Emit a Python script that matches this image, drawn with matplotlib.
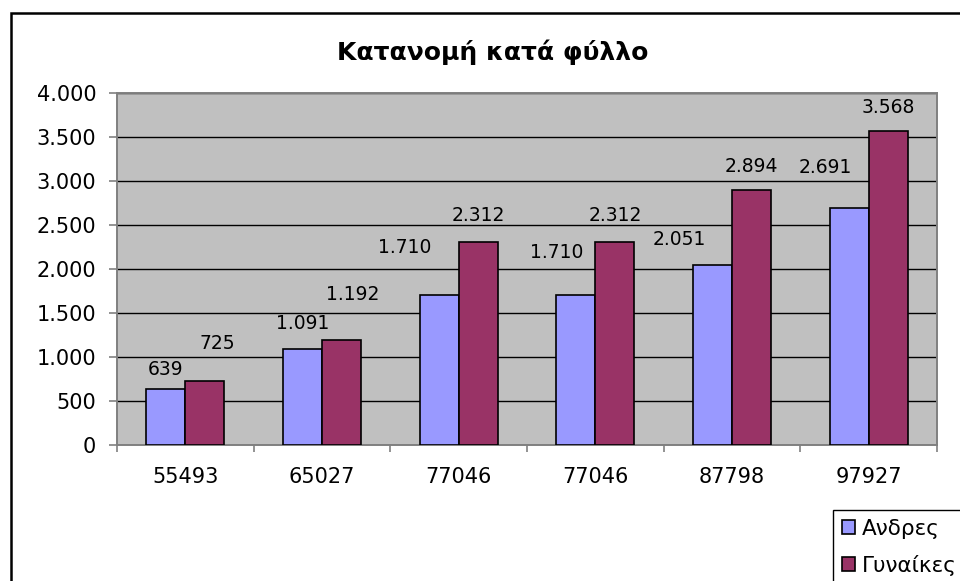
import matplotlib
matplotlib.use('Agg')
import matplotlib.pyplot as plt
import matplotlib.ticker as mticker
from matplotlib.patches import Rectangle
import numpy as np

plt.rcParams['font.family'] = ['DejaVu Sans']

# δεδομένα
categories = ['55493', '65027', '77046', '77046', '87798', '97927']
andres = [639, 1091, 1710, 1710, 2051, 2691]
gynaikes = [725, 1192, 2312, 2312, 2894, 3568]
series_names = ['Ανδρες', 'Γυναίκες']

# μετακινήσεις ετικετών (pt), όπως στο πρωτότυπο
off_andres = [(0, 14), (0, 18), (-25, 34), (-14, 30), (-24, 18), (-17, 29)]
off_gyn = [(9, 27), (8, 33), (0, 19), (0, 19), (0, 17), (0, 17)]

C_BLUE = '#9999FF'
C_RED = '#993366'
C_PLOT = '#C0C0C0'
C_AXIS = '#808080'


def fmt(v):
    return f'{v:,}'.replace(',', '.')


fig = plt.figure(figsize=(9.6, 5.81), dpi=100)
fig.patch.set_facecolor('white')

# εξωτερικό πλαίσιο
fig.add_artist(Rectangle((11 / 960, -0.2), 1.2, 1 - 13 / 581 + 0.2,
                         transform=fig.transFigure, fill=False,
                         edgecolor='black', linewidth=1.8))

ax = fig.add_axes([117 / 960, 1 - 445 / 581, 820 / 960, 352 / 581])
ax.set_facecolor(C_PLOT)

x = np.arange(len(categories))
w = 0.2857
b1 = ax.bar(x - w / 2, andres, w, color=C_BLUE, edgecolor='black', linewidth=1.2,
            label=series_names[0], zorder=3)
b2 = ax.bar(x + w / 2, gynaikes, w, color=C_RED, edgecolor='black', linewidth=1.2,
            label=series_names[1], zorder=3)

for bars, vals, offs in [(b1, andres, off_andres), (b2, gynaikes, off_gyn)]:
    for bar, v, (dx, dy) in zip(bars, vals, offs):
        ax.annotate(fmt(v), (bar.get_x() + bar.get_width() / 2, v),
                    xytext=(dx, dy), textcoords='offset points',
                    ha='center', va='center', fontsize=13.5, color='black', zorder=4)

ax.set_xlim(-0.5, len(categories) - 0.5)
ax.set_ylim(0, 4000)
ax.yaxis.set_major_locator(mticker.MultipleLocator(500))
ax.yaxis.set_major_formatter(mticker.FuncFormatter(lambda v, p: fmt(int(v))))
ax.yaxis.grid(True, color='black', linewidth=1.0, zorder=1)
ax.set_axisbelow(True)

ax.set_xticks(np.arange(-0.5, len(categories), 1.0))
ax.set_xticklabels([])
ax.set_xticks(x, minor=True)
ax.set_xticklabels(categories, minor=True)
ax.tick_params(axis='x', which='major', direction='out', length=5, color=C_AXIS, width=1.2)
ax.tick_params(axis='x', which='minor', length=0, pad=16, labelsize=15)
ax.tick_params(axis='y', direction='out', length=6, color=C_AXIS, width=1.2,
               pad=9, labelsize=15)

for sp in ax.spines.values():
    sp.set_color(C_AXIS)
    sp.set_linewidth(1.4)

fig.text(493 / 960, 1 - 52 / 581, 'Κατανομή κατά φύλλο', fontsize=18,
         fontweight='bold', ha='center', va='center')

fig.legend(handles=[b1, b2], labels=series_names, loc='upper left',
           bbox_to_anchor=(833 / 960, 1 - 510 / 581), fontsize=15.5,
           frameon=True, fancybox=False, edgecolor='black', framealpha=1,
           handlelength=0.6, handleheight=0.6, handletextpad=0.35,
           borderpad=0.4, labelspacing=0.75, borderaxespad=0)

fig.savefig('out.png', dpi=100)
